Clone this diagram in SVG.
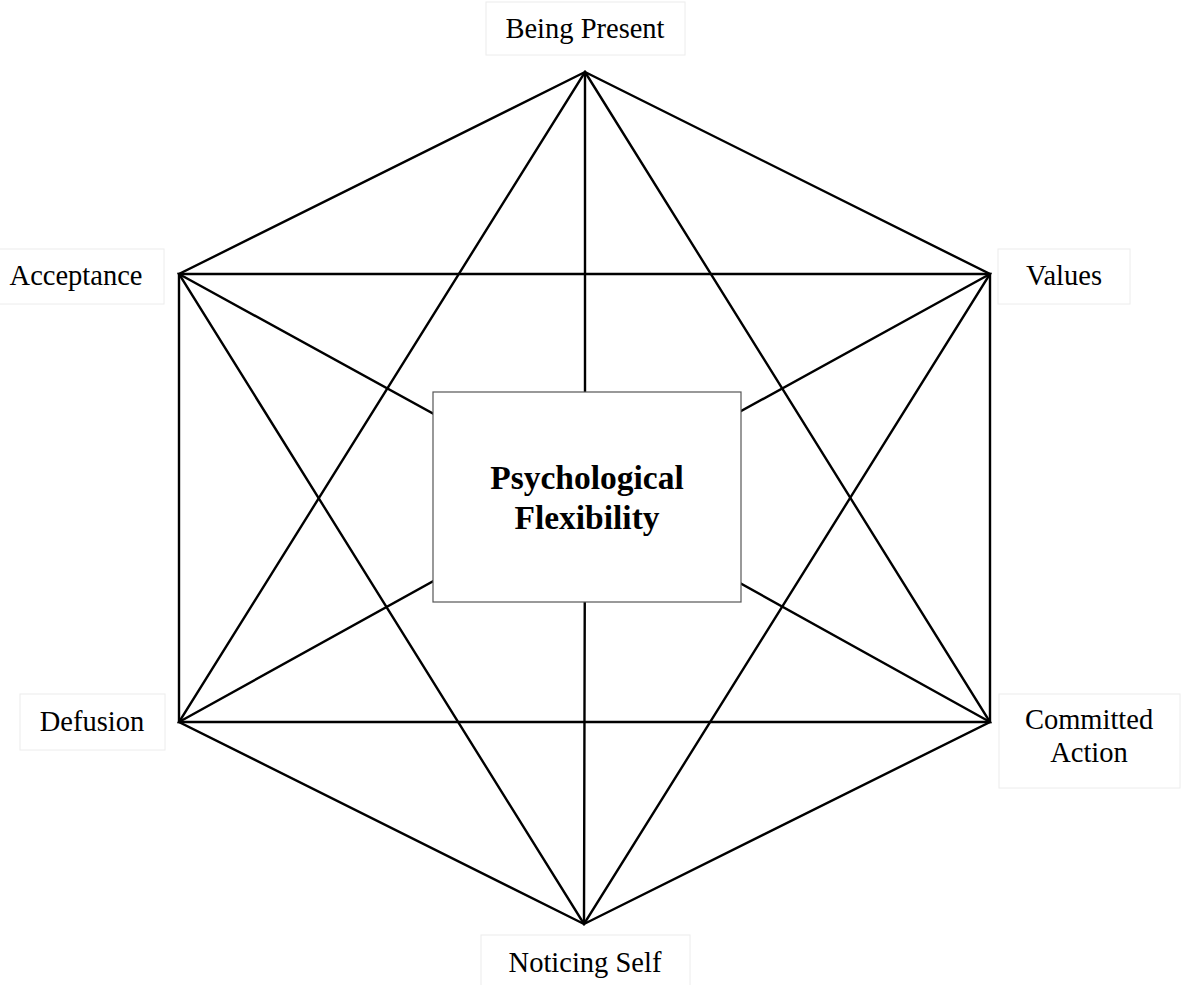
<svg xmlns="http://www.w3.org/2000/svg" width="1182" height="985" viewBox="0 0 1182 985">
<style>
.e{stroke:#000;stroke-width:2.4;fill:none;stroke-linecap:round}
.lb{fill:#fff;stroke:#ececec;stroke-width:1}
.t{font-family:"Liberation Serif","Times New Roman",serif;font-size:28.5px;fill:#000;text-anchor:middle}
.c{font-family:"Liberation Serif","Times New Roman",serif;font-size:33.5px;font-weight:bold;fill:#000;text-anchor:middle}
</style>
<rect width="1182" height="985" fill="#fff"/>
<g id="connectors">
<path class="e" d="M585,72 L990,274 L990,722 L584,924 L179,722 L179,274 Z"/>
<path class="e" d="M585,72 L990,722 L179,722 Z"/>
<path class="e" d="M179,274 L990,274 L584,924 Z"/>
<path class="e" d="M585,72 L585,497 M584,924 L585,497 M179,274 L585,497 M990,274 L585,497 M179,722 L585,497 M990,722 L585,497"/>
</g>
<g id="center">
<rect x="433" y="392" width="308" height="210" fill="#fff" stroke="#555" stroke-width="1.2"/>
<text class="c" x="587" y="489">Psychological</text>
<text class="c" x="587" y="529">Flexibility</text>
</g>
<g id="being-present">
<rect class="lb" x="486" y="2" width="199" height="53"/>
<text class="t" x="585" y="38">Being Present</text>
</g>
<g id="acceptance">
<rect class="lb" x="-1" y="249" width="165" height="55"/>
<text class="t" x="76" y="285">Acceptance</text>
</g>
<g id="values">
<rect class="lb" x="998" y="249" width="132" height="55"/>
<text class="t" x="1064" y="285">Values</text>
</g>
<g id="defusion">
<rect class="lb" x="20" y="694" width="145" height="56"/>
<text class="t" x="92" y="731">Defusion</text>
</g>
<g id="committed-action">
<rect class="lb" x="999" y="694" width="181" height="94"/>
<text class="t" x="1089" y="729">Committed</text>
<text class="t" x="1089" y="762">Action</text>
</g>
<g id="noticing-self">
<rect class="lb" x="481" y="935" width="209" height="55"/>
<text class="t" x="585" y="972">Noticing Self</text>
</g>
</svg>
